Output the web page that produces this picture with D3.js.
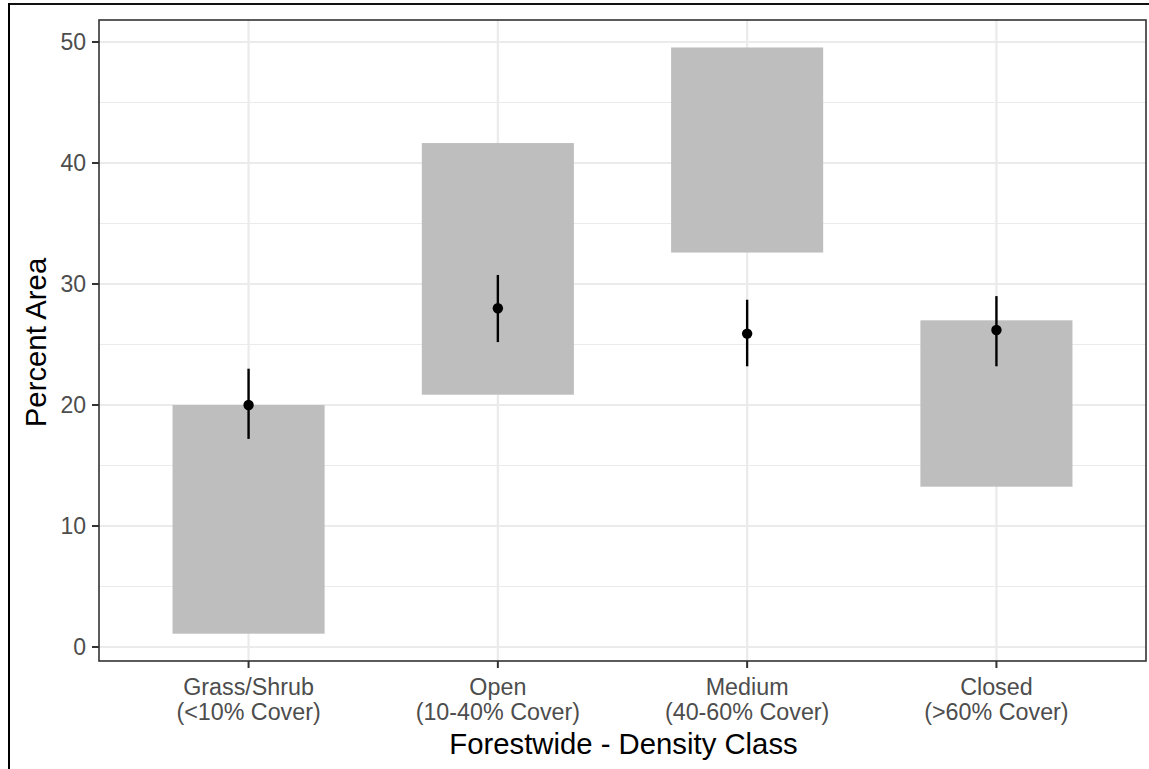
<!DOCTYPE html>
<html><head><meta charset="utf-8">
<script src="https://cdn.jsdelivr.net/npm/d3@7"></script>
<style>body{margin:0;background:#fff;}svg{display:block;font-family:"Liberation Sans",Arial,sans-serif;}</style>
</head><body>
<script>
const categories = ["Grass/Shrub", "Open", "Medium", "Closed"];
const coverLabels = ["(<10% Cover)", "(10-40% Cover)", "(40-60% Cover)", "(>60% Cover)"];
const barLow  = [1.1, 20.85, 32.6, 13.25];
const barHigh = [20.0, 41.65, 49.55, 27.0];
const pointEst = [20.0, 28.0, 25.9, 26.2];
const errLow  = [17.2, 25.2, 23.2, 23.2];
const errHigh = [23.0, 30.75, 28.7, 29.0];
const yTicks = [0, 10, 20, 30, 40, 50];
const yMinor = [5, 15, 25, 35, 45];
const xTitle = "Forestwide - Density Class";
const yTitle = "Percent Area";

const W = 1149, H = 769;
const P = {left: 99, right: 1146, top: 20, bottom: 661};
const svg = d3.select("body").append("svg").attr("width", W).attr("height", H);

const x = d3.scaleLinear().domain([0.4, categories.length + 0.6]).range([P.left, P.right]);
const y = d3.scaleLinear().domain([-1.157, 51.82]).range([P.bottom, P.top]);
const idx = categories.map((d, i) => i + 1);

// outer frame (top & left)
svg.append("line").attr("x1", 8).attr("x2", W).attr("y1", 4).attr("y2", 4).attr("stroke", "#111").attr("stroke-width", 2);
svg.append("line").attr("x1", 9).attr("x2", 9).attr("y1", 3).attr("y2", H).attr("stroke", "#000").attr("stroke-width", 2);

// grid
const g = svg.append("g");
g.selectAll(".minor").data(yMinor).join("line")
  .attr("x1", P.left).attr("x2", P.right).attr("y1", d => y(d)).attr("y2", d => y(d))
  .attr("stroke", "#ebebeb").attr("stroke-width", 1.1);
g.selectAll(".major").data(yTicks).join("line")
  .attr("x1", P.left).attr("x2", P.right).attr("y1", d => y(d)).attr("y2", d => y(d))
  .attr("stroke", "#ebebeb").attr("stroke-width", 2.2);
g.selectAll(".vmajor").data(idx).join("line")
  .attr("x1", d => x(d)).attr("x2", d => x(d)).attr("y1", P.top).attr("y2", P.bottom)
  .attr("stroke", "#ebebeb").attr("stroke-width", 2.2);

// bars (rects)
const hw = 0.305;
svg.append("g").selectAll("rect").data(idx).join("rect")
  .attr("x", d => x(d - hw)).attr("width", d => x(d + hw) - x(d - hw))
  .attr("y", (d, i) => y(barHigh[i])).attr("height", (d, i) => y(barLow[i]) - y(barHigh[i]))
  .attr("fill", "#bebebe");

// error lines
svg.append("g").selectAll("line").data(idx).join("line")
  .attr("x1", d => x(d)).attr("x2", d => x(d))
  .attr("y1", (d, i) => y(errLow[i])).attr("y2", (d, i) => y(errHigh[i]))
  .attr("stroke", "#000").attr("stroke-width", 2.4);
svg.append("g").selectAll("circle").data(idx).join("circle")
  .attr("cx", d => x(d)).attr("cy", (d, i) => y(pointEst[i])).attr("r", 5.2).attr("fill", "#000");

// panel border
svg.append("rect").attr("x", P.left).attr("y", P.top).attr("width", P.right - P.left).attr("height", P.bottom - P.top)
  .attr("fill", "none").attr("stroke", "#333").attr("stroke-width", 1.6);

// y axis ticks
const ya = svg.append("g");
ya.selectAll("line").data(yTicks).join("line")
  .attr("x1", P.left - 7).attr("x2", P.left).attr("y1", d => y(d)).attr("y2", d => y(d))
  .attr("stroke", "#333").attr("stroke-width", 2);
ya.selectAll("text").data(yTicks).join("text")
  .attr("x", P.left - 13).attr("y", d => y(d) + 8).attr("text-anchor", "end")
  .attr("font-size", 23).attr("fill", "#4d4d4d").text(d => d);

// x axis ticks
const xa = svg.append("g");
xa.selectAll("line").data(idx).join("line")
  .attr("x1", d => x(d)).attr("x2", d => x(d)).attr("y1", P.bottom).attr("y2", P.bottom + 7)
  .attr("stroke", "#333").attr("stroke-width", 2);
xa.selectAll("text.l1").data(idx).join("text").attr("class", "l1")
  .attr("x", d => x(d)).attr("y", 695).attr("text-anchor", "middle")
  .attr("font-size", 23.3).attr("fill", "#4d4d4d").text((d, i) => categories[i]);
xa.selectAll("text.l2").data(idx).join("text").attr("class", "l2")
  .attr("x", d => x(d)).attr("y", 720).attr("text-anchor", "middle")
  .attr("font-size", 23.3).attr("fill", "#4d4d4d").text((d, i) => coverLabels[i]);

// titles
svg.append("text").attr("x", (P.left + P.right) / 2 + 1).attr("y", 754).attr("text-anchor", "middle")
  .attr("font-size", 29.3).attr("fill", "#000").text(xTitle);
svg.append("text").attr("transform", `translate(46,${(P.top + P.bottom) / 2 + 2}) rotate(-90)`)
  .attr("text-anchor", "middle").attr("font-size", 29.3).attr("fill", "#000").text(yTitle);
</script>
</body></html>
